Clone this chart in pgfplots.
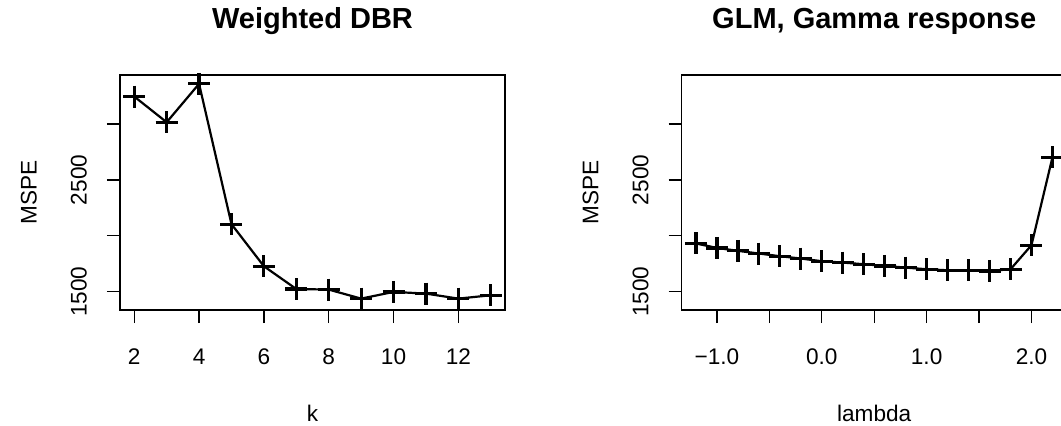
\documentclass[border=0pt]{standalone}
\usepackage{fontspec}
\setmainfont{Liberation Sans}
\usepackage{pgfplots}
\pgfplotsset{compat=1.18}

% 1 px of the reference = 0.5pt
\pgfplotsset{
  rpanel/.style={
    scale only axis, width=192.5pt, height=117.5pt,
    anchor=south west, clip=false,
    axis line style={line width=0.65pt},
    every tick/.style={black, line width=0.65pt},
    tick align=outside, major tick length=6.5pt,
    xtick pos=left, ytick pos=left,
    ymin=1335, ymax=3440,
    ytick={1500,2000,2500,3000}, yticklabels={1500,,2500,},
    ticklabel style={font=\fontsize{11.3}{13}\selectfont},
    xticklabel style={anchor=base, yshift=-20.5pt},
    yticklabel style={xshift=-10.2pt, rotate=90, anchor=base},
    label style={font=\fontsize{11.3}{13}\selectfont},
    title style={font=\fontsize{14.5}{17}\selectfont\bfseries,
      at={(axis description cs:0.5,1)}, anchor=base, yshift=17.5pt},
    xlabel style={at={(axis description cs:0.5,-0.475)}, anchor=base},
    ylabel style={at={(axis description cs:-0.2165,0.5)}, anchor=base},
  },
  rline/.style={black, line width=1.1pt, mark=+, mark size=5.5pt,
    mark options={line width=1.6pt}},
}

\begin{document}
\begin{tikzpicture}
\useasboundingbox (0,0) rectangle (530.5pt,212.5pt);
\clip (0,0) rectangle (530.5pt,212.5pt);

\begin{axis}[rpanel, at={(60pt,57.5pt)},
  title={Weighted DBR}, xlabel={k}, ylabel={MSPE},
  xmin=1.56, xmax=13.44,
  xtick={2,4,6,8,10,12}, xticklabels={2,4,6,8,10,12}]
\addplot[rline] coordinates {
  (2,3247) (3,3017) (4,3361) (5,2104) (6,1727) (7,1523)
  (8,1518) (9,1437) (10,1497) (11,1482) (12,1437) (13,1467)};
\end{axis}

\begin{axis}[rpanel, at={(340.85pt,57.5pt)},
  title={GLM, Gamma response}, xlabel={lambda}, ylabel={MSPE},
  xmin=-1.336, xmax=2.336,
  xtick={-1,-0.5,0,0.5,1,1.5,2}, xticklabels={−1.0,,0.0,,1.0,,2.0}]
\addplot[rline] coordinates {
  (-1.2,1931) (-1.0,1891) (-0.8,1865) (-0.6,1841) (-0.4,1817) (-0.2,1796)
  (0.0,1772) (0.2,1760) (0.4,1745) (0.6,1730) (0.8,1715) (1.0,1700)
  (1.2,1691) (1.4,1691) (1.6,1685) (1.8,1700) (2.0,1916) (2.2,2703)};
\end{axis}
\end{tikzpicture}
\end{document}
